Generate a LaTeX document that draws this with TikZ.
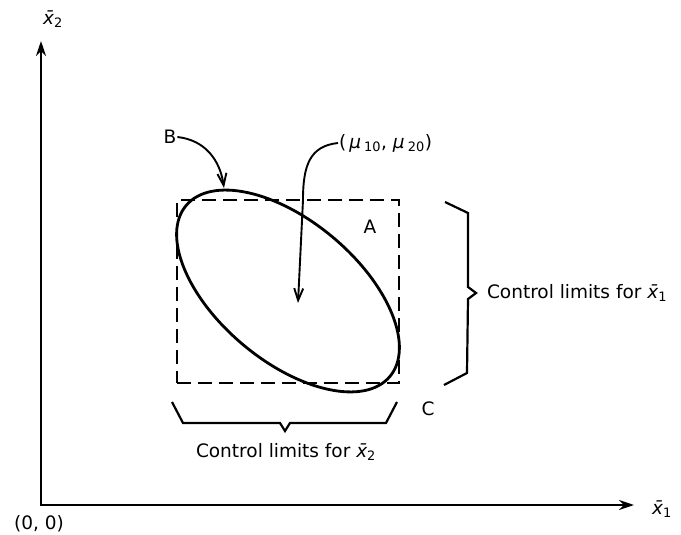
\documentclass[tikz,border=0pt]{standalone}
\usepackage{fontspec}
\setmainfont{DejaVu Sans}
\usetikzlibrary{arrows.meta}
\newcommand{\xbarsub}[1]{{\itshape x̄}\textsubscript{#1}}
\begin{document}
\begin{tikzpicture}[x=1pt,y=-1pt,line width=2.1pt,
  lbl/.style={font=\fontsize{18.5}{22}\selectfont, inner sep=0pt},
  axisline/.style={{Stealth[length=15pt,width=10pt]}-{Stealth[length=15pt,width=10pt]}, line width=2.2pt},
  pointer/.style={-{Straight Barb[length=12pt,width=9pt]}, line width=1.9pt},
  limitbox/.style={draw, dash pattern=on 14pt off 7pt, line width=2.1pt, inner sep=0pt},
  bracepath/.style={line width=2.2pt, line join=miter},
  region/.style={line width=2.8pt}]
\useasboundingbox (0,0) rectangle (681,535);

% axes
\coordinate (O) at (41,505);
\coordinate (Ytop) at (41,41);
\coordinate (Xend) at (634,505);
\draw[axisline] (Ytop) -- (O) -- (Xend);
\node[lbl] (x2lab) at (53,19) {\xbarsub{2}};
\node[lbl] (x1lab) at (662,509) {\xbarsub{1}};
\node[lbl] (origin) at (39,524) {(0, 0)};

% control limit box
\node[limitbox, minimum width=222pt, minimum height=183pt] (box) at (288,291.5) {};

% ellipse
\coordinate (ctr) at (288,291);
\draw[region, rotate around={-40:(ctr)}] (ctr) ellipse [x radius=133pt, y radius=70pt];
\coordinate (Btip) at (224,188);
\coordinate (mutip) at (298,303);

% labels
\node[lbl] (B) at (170,137) {B};
\node[lbl, anchor=west] (mu) at (338,143) {(\,{\itshape μ}\,\textsubscript{10}, {\itshape μ}\,\textsubscript{20})};
\node[lbl] (Alab) at (370,227) {A};
\node[lbl] (Clab) at (428,409) {C};

% pointers
\draw[pointer] (B.east) .. controls (205,140) and (220,160) .. (Btip);
\draw[pointer] (mu.west) .. controls (310,146) and (303,165) .. (303,200) -- (mutip);

% right brace
\draw[bracepath] (445,202) -- (468,213) -- (468,287) -- (476,293) -- (468,299) -- (467,373) -- (444,385);
\node[lbl, anchor=west] (rlab) at (486,293) {Control limits for \xbarsub{1}};

% bottom brace
\draw[bracepath] (172,402) -- (183,423) -- (280,423) -- (285,431) -- (290,423) -- (386,423) -- (397,402);
\node[lbl] (blab) at (286,452) {Control limits for \xbarsub{2}};
\end{tikzpicture}
\end{document}
